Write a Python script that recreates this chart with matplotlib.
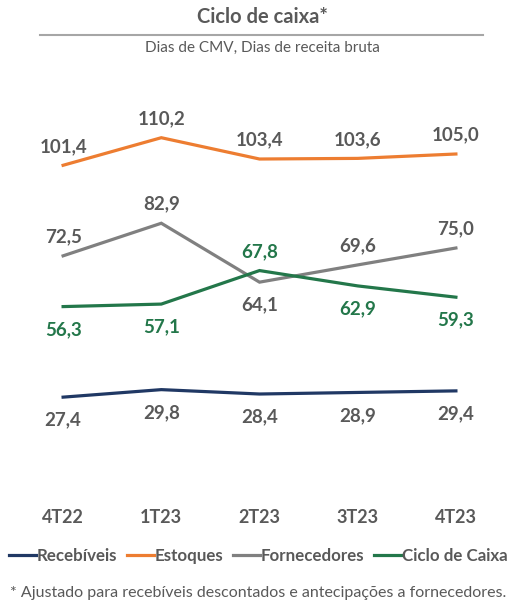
import numpy as np
from matplotlib import pyplot as plt
from matplotlib.lines import Line2D

## data
quarters = ['4T22', '1T23', '2T23', '3T23', '4T23']
recebiveis = [27.4, 29.8, 28.4, 28.9, 29.4]
estoques = [101.4, 110.2, 103.4, 103.6, 105.0]
fornecedores = [72.5, 82.9, 64.1, 69.6, 75.0]
ciclo = [56.3, 57.1, 67.8, 62.9, 59.3]

## label placement (+1 above, -1 below)
pos_receb = [-1, -1, -1, -1, -1]
pos_estoq = [1, 1, 1, 1, 1]
pos_fornec = [1, 1, -1, 1, 1]
pos_ciclo = [-1, -1, 1, -1, -1]

c_blue = '#203864'
c_orange = '#ED7D31'
c_gray = '#808080'
c_green = '#23774A'
c_text = '#595959'

plt.rcParams['font.family'] = ['Lato', 'DejaVu Sans']

W, H = 510, 605
fig = plt.figure(figsize=(W/100, H/100), dpi=100)
ax = fig.add_axes([14/W, 122/H, 491/W, 376/H])

x = np.arange(len(quarters))
series = [
    (recebiveis, c_blue, pos_receb, c_text),
    (estoques, c_orange, pos_estoq, c_text),
    (fornecedores, c_gray, pos_fornec, c_text),
    (ciclo, c_green, pos_ciclo, c_green),
]
for vals, col, pos, tcol in series:
    ax.plot(x, vals, color=col, linewidth=2.3, solid_joinstyle='miter', clip_on=False)
    for xi, v, p in zip(x, vals, pos):
        lab = ('%.1f' % v).replace('.', ',')
        off = 19 if p > 0 else -23
        ax.annotate(lab, (xi, v), xytext=(0, off*0.72), textcoords='offset points',
                    ha='center', va='center', fontsize=13.5, fontweight='bold', color=tcol)

ax.set_xlim(-0.5, 4.5)
ax.set_ylim(0, 120)
ax.set_xticks(x)
ax.set_xticklabels(quarters, fontsize=13, fontweight='bold', color=c_text)
ax.tick_params(axis='x', length=0, pad=19)
ax.set_yticks([])
for s in ax.spines.values():
    s.set_visible(False)

## title block
fig.text(262/W, 1-17/H, 'Ciclo de caixa*', ha='center', va='center',
         fontsize=14.5, fontweight='bold', color=c_text)
fig.add_artist(Line2D([40/W, 483/W], [1-35/H, 1-35/H], color='#A6A6A6', linewidth=1.5))
fig.text(262/W, 1-48/H, 'Dias de CMV, Dias de receita bruta', ha='center', va='center',
         fontsize=11, color=c_text)

## legend
handles = [Line2D([], [], color=c, linewidth=2.3) for c in [c_blue, c_orange, c_gray, c_green]]
leg = fig.legend(handles, ['Recebíveis', 'Estoques', 'Fornecedores', 'Ciclo de Caixa'],
                 loc='center', bbox_to_anchor=(258/W, 1-556/H), ncol=4, frameon=False,
                 handlelength=1.6, handletextpad=0.05, columnspacing=0.55,
                 prop={'weight': 'bold', 'size': 12.2})
for t in leg.get_texts():
    t.set_color(c_text)

fig.text(258/W, 1-593/H, '* Ajustado para recebíveis descontados e antecipações a fornecedores.',
         ha='center', va='center', fontsize=11.5, color=c_text)

plt.savefig('out.png', dpi=100)
